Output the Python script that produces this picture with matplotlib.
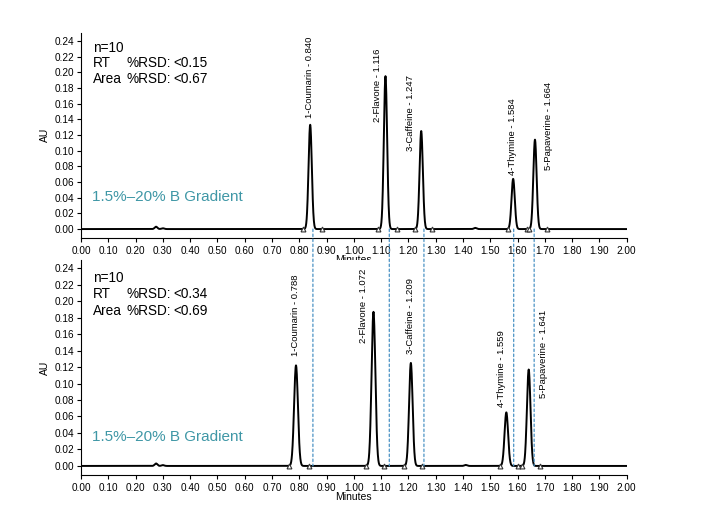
import numpy as np
import matplotlib.pyplot as plt
from matplotlib.patches import ConnectionPatch

plt.rcParams['font.family'] = ['Liberation Sans', 'DejaVu Sans']

# Peak data
compounds = ['1-Coumarin', '2-Flavone', '3-Caffeine', '4-Thymine', '5-Papaverine']

top_rt = [0.840, 1.116, 1.247, 1.584, 1.664]
top_height = [0.133, 0.195, 0.125, 0.064, 0.114]
top_width = [0.006, 0.006, 0.006, 0.006, 0.006]
top_marks = [0.815, 0.885, 1.090, 1.157, 1.225, 1.285, 1.564, 1.636, 1.642, 1.709]
top_stats = ['<0.15', '<0.67']

bot_rt = [0.788, 1.072, 1.209, 1.559, 1.641]
bot_height = [0.122, 0.187, 0.125, 0.065, 0.117]
bot_width = [0.007, 0.007, 0.0065, 0.0065, 0.0065]
bot_marks = [0.762, 0.837, 1.046, 1.112, 1.185, 1.250, 1.537, 1.602, 1.617, 1.682]
bot_stats = ['<0.34', '<0.69']

# small baseline bumps (position, height)
top_bumps = [(0.275, 0.003), (0.30, 0.001), (1.445, 0.0015)]
bot_bumps = [(0.275, 0.003), (0.30, 0.001), (1.41, 0.0012)]

# reference lines (top-run retention marks)
ref_lines = [0.850, 1.130, 1.257, 1.586, 1.661]

# label placement (x, y of label foot) in data units
top_lab_pos = [(0.839, 0.141), (1.085, 0.136), (1.208, 0.099), (1.583, 0.069), (1.715, 0.075)]
bot_lab_pos = [(0.788, 0.133), (1.034, 0.149), (1.207, 0.136), (1.541, 0.072), (1.694, 0.083)]

x = np.linspace(0, 2, 4001)


def trace(rts, hs, ws, bumps):
    y = np.zeros_like(x)
    for r, h, w in zip(rts, hs, ws):
        y += h * np.exp(-0.5 * ((x - r) / w) ** 2)
    for r, h in bumps:
        y += h * np.exp(-0.5 * ((x - r) / 0.005) ** 2)
    return y


fig = plt.figure(figsize=(7.04, 5.24), dpi=100)
ax1 = fig.add_axes([0.1151, 0.5464, 0.775, 0.3906])
ax2 = fig.add_axes([0.1151, 0.0935, 0.775, 0.4105])

panels = [
    (ax1, top_rt, top_height, top_width, top_marks, top_stats, top_bumps, top_lab_pos,
     (0.928, 0.853, 0.774), 0.041),
    (ax2, bot_rt, bot_height, bot_width, bot_marks, bot_stats, bot_bumps, bot_lab_pos,
     (0.915, 0.842, 0.764), 0.035),
]

for ax, rts, hs, ws, marks, stats, bumps, labpos, rows, gy in panels:
    y = trace(rts, hs, ws, bumps)
    ax.plot(x, y, color='black', lw=1.4)
    ax.plot(marks, np.zeros(len(marks)), linestyle='none', marker='^', ms=3.5,
            mfc='white', mec='#333333', mew=0.8)
    for name, rt, (lx, ly) in zip(compounds, rts, labpos):
        ax.text(lx, ly, f'{name} - {rt:.3f}', rotation=90, ha='center', va='bottom',
                fontsize=6.8)

    ax.set_xlim(0, 2)
    ax.set_ylim(-0.011, 0.25)
    ax.set_xticks(np.arange(0, 2.01, 0.1))
    ax.set_xticklabels([f'{t:.2f}' for t in np.arange(0, 2.01, 0.1)])
    ax.set_yticks(np.arange(0, 0.241, 0.02))
    ax.set_yticklabels([f'{t:.2f}' for t in np.arange(0, 0.241, 0.02)])
    ax.tick_params(labelsize=7.2, length=3, width=0.8, pad=2)
    ax.tick_params(axis='x', pad=3)
    ax.spines['top'].set_visible(False)
    ax.spines['right'].set_visible(False)
    ax.set_xlabel('Minutes', fontsize=7.5, labelpad=-1)
    ax.set_ylabel('AU', fontsize=7.5, labelpad=3)

    ax.text(0.022, rows[0], 'n=10', transform=ax.transAxes, fontsize=9.8, va='center')
    ax.text(0.022, rows[1], 'RT', transform=ax.transAxes, fontsize=9.8, va='center')
    ax.text(0.022, rows[2], 'Area', transform=ax.transAxes, fontsize=9.8, va='center')
    ax.text(0.083, rows[1], '%RSD:', transform=ax.transAxes, fontsize=9.8, va='center')
    ax.text(0.083, rows[2], '%RSD:', transform=ax.transAxes, fontsize=9.8, va='center')
    ax.text(0.17, rows[1], stats[0], transform=ax.transAxes, fontsize=9.8, va='center')
    ax.text(0.17, rows[2], stats[1], transform=ax.transAxes, fontsize=9.8, va='center')
    ax.text(0.04, gy, '1.5%–20% B Gradient', fontsize=11, color='#3f97a6',
            va='center')

# dotted reference lines running from the top baseline to the bottom baseline
for xr in ref_lines:
    con = ConnectionPatch(xyA=(xr, 0), coordsA=ax1.transData,
                          xyB=(xr, 0), coordsB=ax2.transData,
                          color='#4a92c4', lw=0.9, linestyle=(0, (2, 2)))
    fig.add_artist(con)

plt.savefig('out.png', dpi=100)
